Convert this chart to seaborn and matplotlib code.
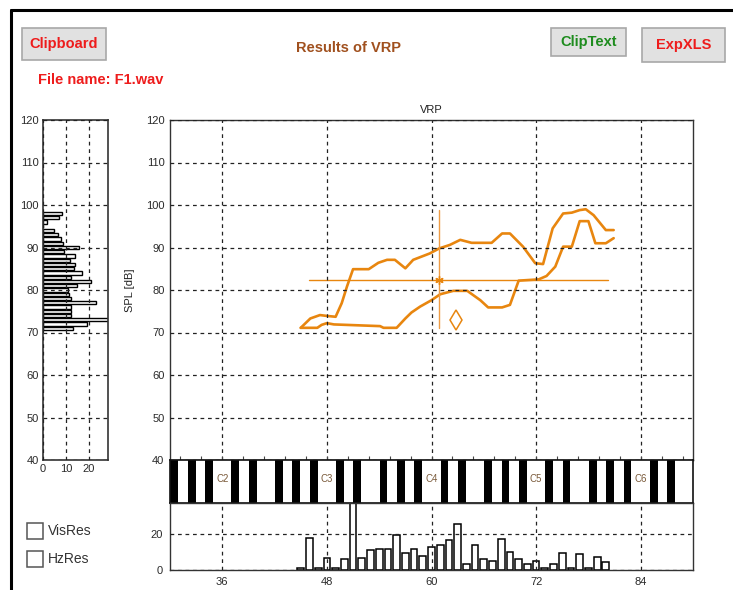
import numpy as np
import pandas as pd
import matplotlib
matplotlib.use("Agg")
import matplotlib.pyplot as plt
import seaborn as sns
from matplotlib.patches import Rectangle
from matplotlib.lines import Line2D

# ---------------- data ----------------
# voice range profile contour (semitone number, SPL in dB)
upper_note = [45.0, 46.1, 47.2, 48.0, 49.0, 49.7, 50.3, 51.0, 52.8, 53.9, 54.9, 55.8,
              57.0, 57.9, 59.8, 60.9, 62.1, 63.3, 64.6, 66.9, 68.1, 69.0, 70.5, 71.9,
              72.8, 73.9, 75.1, 76.1, 77.0, 77.7, 78.6, 80.0, 80.9]
upper_spl = [71.1, 73.3, 74.1, 73.9, 73.7, 76.9, 80.8, 84.9, 84.9, 86.4, 87.1, 87.1,
             85.1, 87.1, 88.6, 89.8, 90.6, 91.8, 91.1, 91.1, 93.3, 93.3, 90.2, 86.3,
             86.1, 94.5, 98.0, 98.2, 98.8, 99.0, 97.6, 94.1, 94.1]
lower_note = [45.0, 46.9, 47.4, 48.0, 48.8, 54.1, 54.5, 56.0, 57.0, 57.7, 58.7, 60.0,
              61.0, 62.5, 64.1, 65.6, 66.5, 68.1, 69.0, 70.0, 72.3, 73.2, 74.2, 75.1,
              76.1, 77.0, 78.0, 78.8, 80.0, 80.9]
lower_spl = [71.1, 71.1, 71.8, 72.2, 71.9, 71.5, 71.1, 71.1, 73.3, 74.7, 76.1, 77.6,
             79.0, 79.8, 79.8, 77.6, 75.9, 75.9, 76.5, 82.2, 82.5, 83.3, 85.5, 90.2,
             90.2, 96.2, 96.2, 91.0, 91.0, 92.2]

# centre of gravity with its spread, and the speaking-voice marker
mean_note, mean_spl = 60.9, 82.4
note_span = [45.9, 80.2]
spl_span = [71.0, 98.8]
speech_note, speech_spl = 62.8, 72.9

# pitch histogram (semitone -> count)
hist_notes = list(range(45, 81))
hist_note_counts = [1.3, 17.6, 0.9, 6.9, 1.0, 6.2, 40.0, 6.9, 11.3, 11.8, 11.8, 19.5,
                    9.5, 11.8, 7.6, 12.6, 13.9, 16.8, 25.5, 3.3, 14.0, 6.0, 4.9, 17.3,
                    9.8, 6.0, 3.1, 4.9, 1.1, 3.3, 9.7, 1.3, 8.7, 1.3, 7.3, 4.5]

# SPL histogram (dB -> count)
spl_levels = list(range(71, 99))
spl_counts = [13.0, 19.0, 29.0, 12.0, 12.0, 12.0, 23.0, 12.0, 11.5, 11.0, 14.7, 21.0,
              12.3, 16.8, 13.5, 14.0, 11.6, 14.0, 9.2, 15.8, 8.6, 7.8, 6.5, 4.8,
              0.0, 1.7, 7.1, 8.4]

note_ticks = [36, 48, 60, 72, 84]
octave_names = ["C2", "C3", "C4", "C5", "C6"]
spl_ticks = list(range(40, 121, 10))

# ---------------- style ----------------
sns.set_theme(style="white")
plt.rcParams["font.family"] = ["Liberation Sans", "DejaVu Sans"]

ORANGE = "#E8860F"
ORANGE_LIGHT = "#EE9C45"
GRID = dict(color="#222222", linestyle=(0, (3, 3)), linewidth=0.9)
TICK_COLOR = "#2A2A2A"

W, H = 733, 590
fig = plt.figure(figsize=(W / 100, H / 100), dpi=100)


def rect(l, t, r, b):
    return [l / W, 1 - b / H, (r - l) / W, (b - t) / H]


def frame(ax, lw=1.0, color="#333333"):
    for s in ax.spines.values():
        s.set_visible(True)
        s.set_color(color)
        s.set_linewidth(lw)


ax_main = fig.add_axes(rect(170, 120, 693, 460))
ax_keys = fig.add_axes(rect(170, 460, 693, 503))
ax_hist = fig.add_axes(rect(170, 503, 693, 570))
ax_left = fig.add_axes(rect(43, 120, 108, 460))

# ---------------- main VRP plot ----------------
contour = pd.concat([
    pd.DataFrame({"note": upper_note, "spl": upper_spl, "edge": "upper"}),
    pd.DataFrame({"note": lower_note, "spl": lower_spl, "edge": "lower"}),
])
sns.lineplot(data=contour, x="note", y="spl", hue="edge", estimator=None, sort=False,
             palette={"upper": ORANGE, "lower": ORANGE}, linewidth=1.9,
             legend=False, ax=ax_main)
ax_main.plot(note_span, [mean_spl, mean_spl], color=ORANGE, linewidth=1.0)
ax_main.plot([mean_note, mean_note], spl_span, color=ORANGE_LIGHT, linewidth=1.0)
ax_main.plot([mean_note], [mean_spl], marker=(6, 2, 0), markersize=6,
             markeredgecolor=ORANGE, markeredgewidth=1.0, linestyle="none")
ax_main.plot([speech_note], [speech_spl], marker="d", markersize=10,
             markerfacecolor="none", markeredgecolor=ORANGE, markeredgewidth=1.1,
             linestyle="none")

ax_main.set_xlim(30, 90)
ax_main.set_ylim(40, 120)
ax_main.set_xticks(note_ticks)
ax_main.set_xticks(np.arange(31.2, 90, 2.4), minor=True)
ax_main.set_yticks(spl_ticks)
ax_main.grid(True, which="major", **GRID)
ax_main.set_axisbelow(False)
ax_main.tick_params(axis="x", which="both", direction="in", length=3, width=0.8,
                    color="#444444", bottom=True, labelbottom=False)
ax_main.tick_params(axis="y", length=0, labelsize=8, labelcolor=TICK_COLOR, pad=4)
ax_main.set_xlabel("")
ax_main.set_ylabel("SPL [dB]", fontsize=8, color="#222222", labelpad=8)
ax_main.set_title("VRP", fontsize=8, color="#222222", pad=5)
frame(ax_main)

# ---------------- keyboard strip ----------------
black_keys = [n for n in range(30, 90) if n % 12 in (1, 3, 6, 8, 10)]
ax_keys.bar([k + 0.04 for k in black_keys], 1, width=0.9, align="edge",
            color="black", linewidth=0)
for n, name in zip(note_ticks, octave_names):
    ax_keys.text(n, 0.55, name, ha="center", va="center", fontsize=7,
                 color="#7A5A3A")
ax_keys.set_xlim(30, 90)
ax_keys.set_ylim(0, 1)
ax_keys.set_xticks([])
ax_keys.set_yticks([])
frame(ax_keys, lw=1.2, color="#111111")

# ---------------- pitch histogram ----------------
sns.histplot(x=hist_notes, weights=hist_note_counts, discrete=True, shrink=0.78,
             color="white", edgecolor="black", linewidth=1.1, alpha=1.0, ax=ax_hist)
ax_hist.set_xlim(30, 90)
ax_hist.set_ylim(0, 37.2)
ax_hist.set_xticks(note_ticks)
ax_hist.set_yticks([0, 20])
ax_hist.grid(True, **GRID)
ax_hist.set_axisbelow(False)
ax_hist.tick_params(length=0, labelsize=8, labelcolor=TICK_COLOR, pad=5)
ax_hist.set_xlabel("")
ax_hist.set_ylabel("")
frame(ax_hist)

# ---------------- SPL histogram ----------------
sns.histplot(y=spl_levels, weights=spl_counts, discrete=True, shrink=0.8,
             color="white", edgecolor="black", linewidth=1.0, alpha=1.0, ax=ax_left)
ax_left.set_xlim(0, 28.3)
ax_left.set_ylim(40, 120)
ax_left.set_xticks([0, 10, 20])
ax_left.set_yticks(spl_ticks)
ax_left.grid(True, **GRID)
ax_left.set_axisbelow(False)
ax_left.tick_params(length=0, labelsize=8, labelcolor=TICK_COLOR, pad=3)
ax_left.set_xlabel("")
ax_left.set_ylabel("")
frame(ax_left, lw=1.2)

# ---------------- window chrome ----------------
fig.add_artist(Line2D([11 / W, 1.0], [1 - 10 / H, 1 - 10 / H], color="black", linewidth=2.2))
fig.add_artist(Line2D([11 / W, 11 / W], [0.0, 1 - 10 / H], color="black", linewidth=2.2))


def button(l, t, r, b, label, color):
    fig.add_artist(Rectangle((l / W, 1 - b / H), (r - l) / W, (b - t) / H,
                             transform=fig.transFigure, facecolor="#E1E1E1",
                             edgecolor="#A8A8A8", linewidth=1.2))
    fig.text((l + r) / 2 / W, 1 - (t + b) / 2 / H, label, ha="center", va="center",
             fontsize=10.5, fontweight="bold", color=color)


button(22, 28, 106, 60, "Clipboard", "#EE1C1C")
button(551, 28, 626, 56, "ClipText", "#1E8C1E")
button(642, 28, 725, 62, "ExpXLS", "#EE1C1C")

fig.text(349 / W, 1 - 48 / H, "Results of VRP", ha="center", va="center",
         fontsize=10.5, fontweight="bold", color="#A0501E")
fig.text(38 / W, 1 - 80 / H, "File name: F1.wav", ha="left", va="center",
         fontsize=10.5, fontweight="bold", color="#EE1C1C")


def checkbox(t, label):
    fig.add_artist(Rectangle((27 / W, 1 - (t + 16) / H), 16 / W, 16 / H,
                             transform=fig.transFigure, facecolor="white",
                             edgecolor="#555555", linewidth=1.1))
    fig.text(48 / W, 1 - (t + 8) / H, label, ha="left", va="center",
             fontsize=10, color="#333333")


checkbox(523, "VisRes")
checkbox(551, "HzRes")

fig.savefig("out.png", dpi=100, facecolor="white")
